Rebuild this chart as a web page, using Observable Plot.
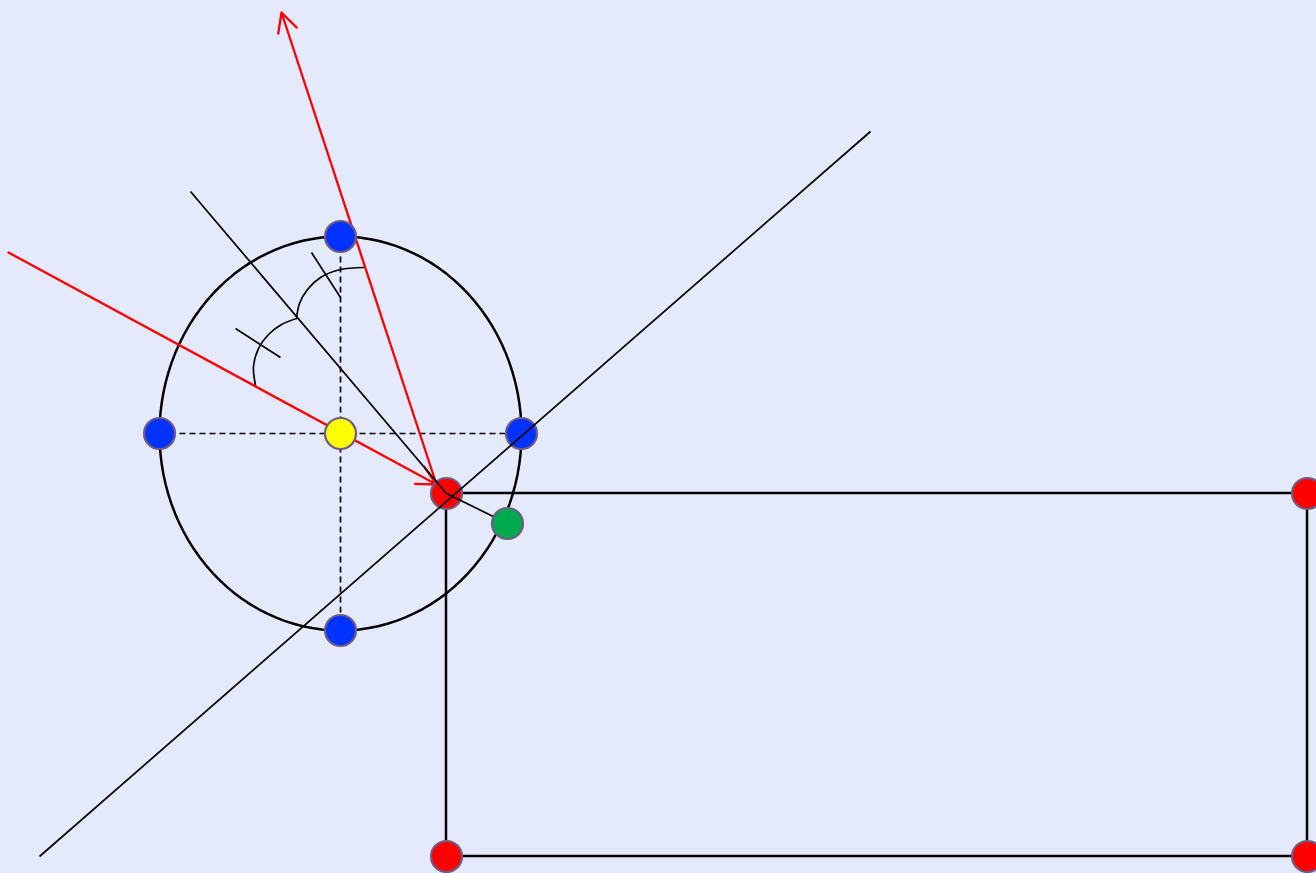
<!DOCTYPE html>
<html>
<head>
<meta charset="utf-8">
<script src="https://cdn.jsdelivr.net/npm/d3@7"></script>
<script src="https://cdn.jsdelivr.net/npm/@observablehq/plot@0.6"></script>
<style>
  html, body { margin: 0; padding: 0; background: #E5E9FC; overflow: hidden; }
</style>
</head>
<body>
<div id="chart"></div>
<script>
// Ellipse (mirror) parameters: center and radii, in picture units
const ellipseCenter = [340, 433];
const ellipseRadii = [181, 197];

// Dots
const blueDots = [{x: 340, y: 236}, {x: 159, y: 433}, {x: 521, y: 433}, {x: 340, y: 630}];
const yellowDots = [{x: 340, y: 433}];
const redDots = [{x: 446, y: 493}, {x: 1307, y: 493}, {x: 446, y: 856}, {x: 1307, y: 856}];
const greenDots = [{x: 507, y: 523}];

// Dashed axes of the ellipse
const dashedLines = [
  {x1: 159, y1: 433, x2: 521, y2: 433},
  {x1: 340, y1: 236, x2: 340, y2: 630}
];

// Rectangle
const rectangle = [{x1: 446, y1: 493, x2: 1307, y2: 856}];

// Black thin lines: tangent, normal, red-to-green segment
const blackLines = [
  {x1: 39, y1: 856, x2: 870, y2: 131},
  {x1: 190, y1: 191, x2: 446, y2: 493},
  {x1: 446, y1: 493, x2: 507, y2: 523}
];

// Red rays (incident and reflected) with arrowheads
const redRays = [
  {x1: 8, y1: 252, x2: 436, y2: 484},
  {x1: 436, y1: 484, x2: 281, y2: 12}
];

// Angle arcs
const arc1 = [[255, 385], [253, 366], [258, 348], [268, 334], [281, 324], [296, 318]];
const arc2 = [[296, 318], [299, 303], [307, 289], [320, 277], [340, 269], [363, 267]];
const tickMarks = [
  {x1: 235, y1: 328, x2: 280, y2: 357},
  {x1: 311, y1: 252, x2: 340, y2: 297}
];

// Build ellipse outline from its parameters
const ellipsePts = d3.range(0, 361, 3).map(a => {
  const t = a * Math.PI / 180;
  return [ellipseCenter[0] + ellipseRadii[0] * Math.cos(t), ellipseCenter[1] + ellipseRadii[1] * Math.sin(t)];
});

const dotStroke = "#6E5C86";
const dotR = 15.5;

const chart = Plot.plot({
  width: 1316,
  height: 873,
  margin: 0,
  style: {background: "#E5E9FC", overflow: "visible"},
  x: {domain: [0, 1316], range: [0, 1316], axis: null},
  y: {domain: [0, 873], range: [0, 873], axis: null},
  marks: [
    Plot.line(ellipsePts, {x: d => d[0], y: d => d[1], stroke: "black", strokeWidth: 2.5}),
    Plot.link(dashedLines, {x1: "x1", y1: "y1", x2: "x2", y2: "y2", stroke: "black", strokeWidth: 1.7, strokeDasharray: "6,4"}),
    Plot.rect(rectangle, {x1: "x1", y1: "y1", x2: "x2", y2: "y2", fill: "none", stroke: "black", strokeWidth: 2.5}),
    Plot.line(arc1, {x: d => d[0], y: d => d[1], curve: "catmull-rom", stroke: "black", strokeWidth: 1.7}),
    Plot.line(arc2, {x: d => d[0], y: d => d[1], curve: "catmull-rom", stroke: "black", strokeWidth: 1.7}),
    Plot.link(tickMarks, {x1: "x1", y1: "y1", x2: "x2", y2: "y2", stroke: "black", strokeWidth: 1.7}),
    Plot.arrow(redRays, {x1: "x1", y1: "y1", x2: "x2", y2: "y2", stroke: "#FF0000", strokeWidth: 2.3, headLength: 14, headAngle: 54, bend: 0, insetStart: 0, insetEnd: 0}),
    Plot.dot(yellowDots, {x: "x", y: "y", r: dotR, fill: "#FFFF00", stroke: dotStroke, strokeWidth: 2.2}),
    Plot.dot(blueDots, {x: "x", y: "y", r: dotR, fill: "#0033FF", stroke: dotStroke, strokeWidth: 2.2}),
    Plot.dot(redDots, {x: "x", y: "y", r: dotR, fill: "#FF0000", stroke: dotStroke, strokeWidth: 2.2}),
    Plot.link(blackLines, {x1: "x1", y1: "y1", x2: "x2", y2: "y2", stroke: "black", strokeWidth: 1.7}),
    Plot.dot(greenDots, {x: "x", y: "y", r: dotR, fill: "#00AA4F", stroke: dotStroke, strokeWidth: 2.2})
  ]
});
document.getElementById("chart").append(chart);
</script>
</body>
</html>
